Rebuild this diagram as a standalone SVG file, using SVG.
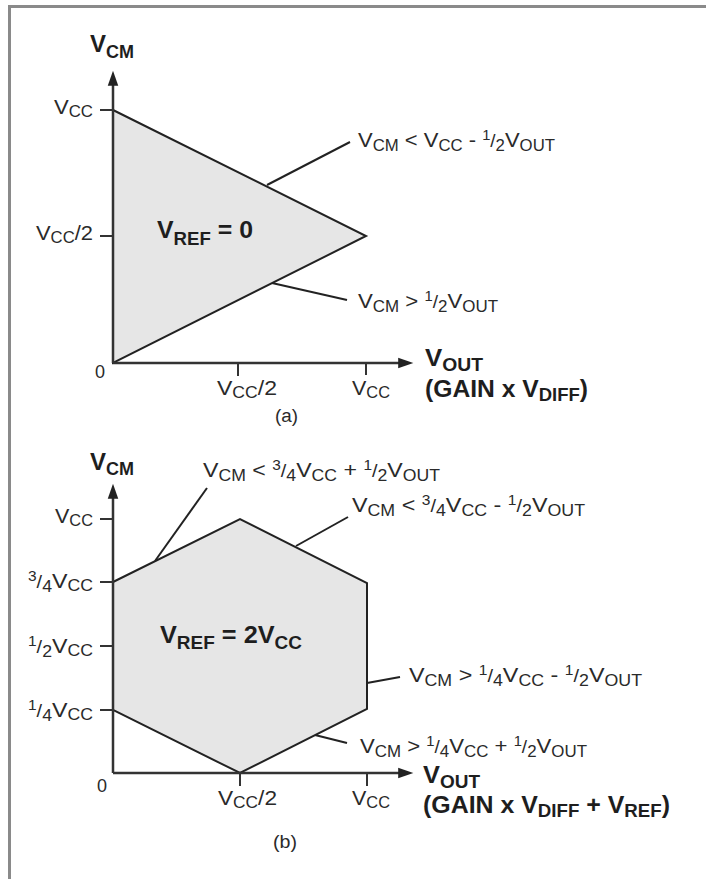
<svg xmlns="http://www.w3.org/2000/svg" width="706" height="879" viewBox="0 0 706 879">
<style>
text{font-family:"Liberation Sans",Arial,Helvetica,sans-serif;fill:#2a2a2a;font-size:21px}
.s{font-size:16px}
.u{font-size:14px}
.sl{font-size:18px}
.b{font-weight:bold;font-size:24px;fill:#1e1e1e}
.bs{font-size:18px}
.sm{font-size:18px}
.region{fill:#e6e6e6;stroke:#222;stroke-width:2;stroke-linejoin:miter}
.axis{stroke:#333;stroke-width:2.5;fill:none}
.tick{stroke:#333;stroke-width:2;fill:none}
.lead{stroke:#222;stroke-width:2;fill:none}
.frame{stroke:#8a8a8a;stroke-width:3;fill:none}
</style>
<defs>
<marker id="arr" markerUnits="userSpaceOnUse" markerWidth="20" markerHeight="14" viewBox="-6 -6 16 12" refX="0" refY="0" orient="auto">
<path d="M-5,-4.5 L8,0 L-5,4.5 Z" fill="#222"/>
</marker>
</defs>

<g id="frame">
<line class="frame" x1="9.5" y1="6.5" x2="706" y2="6.5"/>
<line class="frame" x1="9.5" y1="5" x2="9.5" y2="879"/>
</g>

<!-- Plot (a) -->
<g id="region-a">
<polygon class="region" points="113,110 366,236 113,363"/>
</g>
<g id="axes-a">
<line class="axis" x1="113" y1="363" x2="113" y2="80" marker-end="url(#arr)"/>
<line class="axis" x1="113" y1="363" x2="404" y2="363" marker-end="url(#arr)"/>
<line class="tick" x1="100" y1="110" x2="113" y2="110"/>
<line class="tick" x1="100" y1="236" x2="113" y2="236"/>
<line class="tick" x1="238" y1="363" x2="238" y2="376"/>
<line class="tick" x1="366" y1="363" x2="366" y2="375"/>
</g>
<g id="connectors-a">
<line class="lead" x1="267" y1="185" x2="350" y2="142"/>
<line class="lead" x1="272" y1="283" x2="347" y2="300"/>
</g>
<g id="labels-a">
<text class="b" x="90" y="52">V<tspan class="bs" dy="6">CM</tspan></text>
<text x="93" y="114" text-anchor="end" textLength="39" lengthAdjust="spacingAndGlyphs">V<tspan class="s" dy="3">CC</tspan></text>
<text x="93" y="240" text-anchor="end" textLength="57" lengthAdjust="spacingAndGlyphs">V<tspan class="s" dy="3">CC</tspan><tspan dy="-3">/2</tspan></text>
<text class="b" x="157" y="238" textLength="96" lengthAdjust="spacingAndGlyphs">V<tspan class="bs" dy="7">REF</tspan><tspan dy="-7"> = 0</tspan></text>
<text x="358" y="147" textLength="197" lengthAdjust="spacingAndGlyphs">V<tspan class="s" dy="4">CM</tspan><tspan dy="-4"> &lt; V</tspan><tspan class="s" dy="4">CC</tspan><tspan dy="-4"> - </tspan><tspan class="u" dy="-7">1</tspan><tspan class="sl" dy="7">/</tspan><tspan class="s" dy="4">2</tspan><tspan dy="-4">V</tspan><tspan class="s" dy="4">OUT</tspan></text>
<text x="358" y="308" textLength="140" lengthAdjust="spacingAndGlyphs">V<tspan class="s" dy="4">CM</tspan><tspan dy="-4"> &gt; </tspan><tspan class="u" dy="-7">1</tspan><tspan class="sl" dy="7">/</tspan><tspan class="s" dy="4">2</tspan><tspan dy="-4">V</tspan><tspan class="s" dy="4">OUT</tspan></text>
<text x="95" y="378" style="font-size:18px">0</text>
<text x="217" y="395" textLength="60" lengthAdjust="spacingAndGlyphs">V<tspan class="s" dy="3">CC</tspan><tspan dy="-3">/2</tspan></text>
<text x="352" y="395" textLength="38" lengthAdjust="spacingAndGlyphs">V<tspan class="s" dy="3">CC</tspan></text>
<text class="sm" x="275" y="422" textLength="23" lengthAdjust="spacingAndGlyphs">(a)</text>
<text class="b" x="425" y="366" textLength="58" lengthAdjust="spacingAndGlyphs">V<tspan class="bs" dy="5">OUT</tspan></text>
<text class="b" x="425" y="397" textLength="163" lengthAdjust="spacingAndGlyphs">(GAIN x V<tspan class="bs" dy="4">DIFF</tspan><tspan dy="-4">)</tspan></text>
</g>

<!-- Plot (b) -->
<g id="region-b">
<polygon class="region" points="113,582 240,519 367,583 367,709 240,773 113,710"/>
</g>
<g id="axes-b">
<line class="axis" x1="113" y1="773" x2="113" y2="493" marker-end="url(#arr)"/>
<line class="axis" x1="113" y1="773" x2="404" y2="773" marker-end="url(#arr)"/>
<line class="tick" x1="100" y1="519" x2="113" y2="519"/>
<line class="tick" x1="100" y1="582" x2="113" y2="582"/>
<line class="tick" x1="100" y1="646" x2="113" y2="646"/>
<line class="tick" x1="100" y1="710" x2="113" y2="710"/>
<line class="tick" x1="240" y1="773" x2="240" y2="786"/>
<line class="tick" x1="367" y1="773" x2="367" y2="786"/>
</g>
<g id="connectors-b">
<line class="lead" x1="155" y1="561" x2="207" y2="488"/>
<line class="lead" x1="296" y1="546" x2="348" y2="517"/>
<line class="lead" x1="367" y1="683" x2="400" y2="677"/>
<line class="lead" x1="315" y1="735" x2="347" y2="743"/>
</g>
<g id="labels-b">
<text class="b" x="90" y="470">V<tspan class="bs" dy="5">CM</tspan></text>
<text x="93" y="523" text-anchor="end" textLength="38" lengthAdjust="spacingAndGlyphs">V<tspan class="s" dy="3">CC</tspan></text>
<text x="93" y="588" text-anchor="end" textLength="65" lengthAdjust="spacingAndGlyphs"><tspan class="u" dy="-7">3</tspan><tspan class="sl" dy="7">/</tspan><tspan class="s" dy="4">4</tspan><tspan dy="-4">V</tspan><tspan class="s" dy="3">CC</tspan></text>
<text x="93" y="653" text-anchor="end" textLength="65" lengthAdjust="spacingAndGlyphs"><tspan class="u" dy="-7">1</tspan><tspan class="sl" dy="7">/</tspan><tspan class="s" dy="4">2</tspan><tspan dy="-4">V</tspan><tspan class="s" dy="3">CC</tspan></text>
<text x="93" y="717" text-anchor="end" textLength="65" lengthAdjust="spacingAndGlyphs"><tspan class="u" dy="-7">1</tspan><tspan class="sl" dy="7">/</tspan><tspan class="s" dy="4">4</tspan><tspan dy="-4">V</tspan><tspan class="s" dy="3">CC</tspan></text>
<text class="b" x="160" y="643" textLength="142" lengthAdjust="spacingAndGlyphs">V<tspan class="bs" dy="6">REF</tspan><tspan dy="-6"> = 2V</tspan><tspan class="bs" dy="6">CC</tspan></text>
<text x="203" y="477" textLength="237" lengthAdjust="spacingAndGlyphs">V<tspan class="s" dy="4">CM</tspan><tspan dy="-4"> &lt; </tspan><tspan class="u" dy="-7">3</tspan><tspan class="sl" dy="7">/</tspan><tspan class="s" dy="4">4</tspan><tspan dy="-4">V</tspan><tspan class="s" dy="4">CC</tspan><tspan dy="-4"> + </tspan><tspan class="u" dy="-7">1</tspan><tspan class="sl" dy="7">/</tspan><tspan class="s" dy="4">2</tspan><tspan dy="-4">V</tspan><tspan class="s" dy="4">OUT</tspan></text>
<text x="352" y="512" textLength="233" lengthAdjust="spacingAndGlyphs">V<tspan class="s" dy="4">CM</tspan><tspan dy="-4"> &lt; </tspan><tspan class="u" dy="-7">3</tspan><tspan class="sl" dy="7">/</tspan><tspan class="s" dy="4">4</tspan><tspan dy="-4">V</tspan><tspan class="s" dy="4">CC</tspan><tspan dy="-4"> - </tspan><tspan class="u" dy="-7">1</tspan><tspan class="sl" dy="7">/</tspan><tspan class="s" dy="4">2</tspan><tspan dy="-4">V</tspan><tspan class="s" dy="4">OUT</tspan></text>
<text x="409" y="682" textLength="233" lengthAdjust="spacingAndGlyphs">V<tspan class="s" dy="4">CM</tspan><tspan dy="-4"> &gt; </tspan><tspan class="u" dy="-7">1</tspan><tspan class="sl" dy="7">/</tspan><tspan class="s" dy="4">4</tspan><tspan dy="-4">V</tspan><tspan class="s" dy="4">CC</tspan><tspan dy="-4"> - </tspan><tspan class="u" dy="-7">1</tspan><tspan class="sl" dy="7">/</tspan><tspan class="s" dy="4">2</tspan><tspan dy="-4">V</tspan><tspan class="s" dy="4">OUT</tspan></text>
<text x="360" y="753" textLength="227" lengthAdjust="spacingAndGlyphs">V<tspan class="s" dy="4">CM</tspan><tspan dy="-4"> &gt; </tspan><tspan class="u" dy="-7">1</tspan><tspan class="sl" dy="7">/</tspan><tspan class="s" dy="4">4</tspan><tspan dy="-4">V</tspan><tspan class="s" dy="4">CC</tspan><tspan dy="-4"> + </tspan><tspan class="u" dy="-7">1</tspan><tspan class="sl" dy="7">/</tspan><tspan class="s" dy="4">2</tspan><tspan dy="-4">V</tspan><tspan class="s" dy="4">OUT</tspan></text>
<text x="97" y="792" style="font-size:18px">0</text>
<text x="218" y="805" textLength="59" lengthAdjust="spacingAndGlyphs">V<tspan class="s" dy="3">CC</tspan><tspan dy="-3">/2</tspan></text>
<text x="352" y="805" textLength="38" lengthAdjust="spacingAndGlyphs">V<tspan class="s" dy="3">CC</tspan></text>
<text class="sm" x="273" y="848" textLength="24" lengthAdjust="spacingAndGlyphs">(b)</text>
<text class="b" x="423" y="783" textLength="57" lengthAdjust="spacingAndGlyphs">V<tspan class="bs" dy="5">OUT</tspan></text>
<text class="b" x="423" y="813" textLength="247" lengthAdjust="spacingAndGlyphs">(GAIN x V<tspan class="bs" dy="4">DIFF</tspan><tspan dy="-4"> + V</tspan><tspan class="bs" dy="4">REF</tspan><tspan dy="-4">)</tspan></text>
</g>
</svg>
